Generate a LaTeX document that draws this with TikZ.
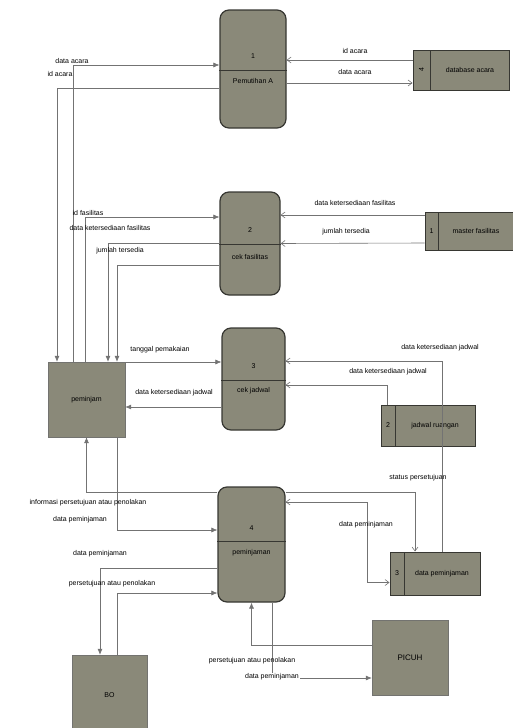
\documentclass[tikz,border=0pt]{standalone}
\usepackage{fontspec}
\setmainfont{Liberation Sans}
\usetikzlibrary{arrows.meta,positioning}

\definecolor{boxfill}{RGB}{138,137,121}
\definecolor{boxline}{RGB}{55,55,50}
\definecolor{flowline}{RGB}{115,115,115}

\tikzset{
  proc/.style={draw=boxline, line width=1.2pt, fill=boxfill, rounded corners=9pt,
    minimum width=66pt, inner sep=0pt},
  entity/.style={draw=boxline!70, fill=boxfill, minimum width=76pt, minimum height=75pt},
  storebox/.style={draw=boxline, line width=1pt, fill=boxfill, minimum height=40pt, inner sep=0pt},
  flow/.style={draw=flowline, line width=0.6pt, -{Latex[length=6pt,width=5pt]}},
  flowthin/.style={draw=flowline, line width=0.6pt, -{Straight Barb[length=4pt,width=6pt]}},
  lbl/.style={font=\fontsize{7}{8}\selectfont, inner sep=1pt},
  boxtxt/.style={font=\fontsize{7}{8}\selectfont, inner sep=0pt},
}

\begin{document}
\begin{tikzpicture}[x=1pt,y=-1pt]

    % Page size of the reference
    \useasboundingbox (0,0) rectangle (513,728);

    % Processes
    \node[proc, minimum height=118pt] (p1) at (253,69) {};
    \node[proc, minimum width=60pt, minimum height=103pt] (p2) at (250,243.5) {};
    \node[proc, minimum width=63pt, minimum height=102pt] (p3) at (253.5,379) {};
    \node[proc, minimum width=67pt, minimum height=115pt] (p4) at (251.5,544.5) {};

    % Divider line and texts of each process
    \draw[boxline, line width=1pt] (p1.west |- 0,70) -- (p1.east |- 0,70);
    \draw[boxline, line width=1pt] (p2.west |- 0,244) -- (p2.east |- 0,244);
    \draw[boxline, line width=1pt] (p3.west |- 0,380) -- (p3.east |- 0,380);
    \draw[boxline, line width=1pt] (p4.west |- 0,541) -- (p4.east |- 0,541);
    \node[boxtxt] (p1num) at (253,56) {1};
    \node[boxtxt] (p1name) at (253,81) {Pemutihan A};
    \node[boxtxt] (p2num) at (250,230) {2};
    \node[boxtxt] (p2name) at (250,257) {cek fasilitas};
    \node[boxtxt] (p3num) at (253.5,366) {3};
    \node[boxtxt] (p3name) at (253.5,391) {cek jadwal};
    \node[boxtxt] (p4num) at (251.5,528) {4};
    \node[boxtxt] (p4name) at (251.5,553) {peminjaman};

    % Data stores
    \node[storebox, minimum width=96pt] (sacara) at (461,70) {};
    \node[storebox, minimum width=88pt, minimum height=38pt] (s1) at (469,231) {};
    \node[storebox, minimum width=94pt, minimum height=41pt] (s2) at (428,425.5) {};
    \node[storebox, minimum width=90pt, minimum height=43pt] (s3) at (435,573.5) {};
    \draw[boxline, line width=1pt] (430,50) -- (430,90);
    \draw[boxline, line width=1pt] (438,212) -- (438,250);
    \draw[boxline, line width=1pt] (395,405) -- (395,446);
    \draw[boxline, line width=1pt] (404,552) -- (404,595);
    \node[boxtxt, rotate=90] (sacaranum) at (421.5,70) {4};
    \node[boxtxt] (sacaraname) at (470,70) {database acara};
    \node[boxtxt] (s1num) at (431.5,231) {1};
    \node[boxtxt] (s1name) at (476,231) {master fasilitas};
    \node[boxtxt] (s2num) at (388,425.5) {2};
    \node[boxtxt] (s2name) at (435,425.5) {jadwal ruangan};
    \node[boxtxt] (s3num) at (397,573.5) {3};
    \node[boxtxt] (s3name) at (442,573.5) {data peminjaman};

    % External entities
    \node[entity, minimum width=77pt] (peminjam) at (86.5,399.5) {\fontsize{7}{8}\selectfont peminjam};
    \node[entity, minimum width=75pt, minimum height=80pt] (bo) at (109.5,695) {\fontsize{7}{8}\selectfont BO};
    \node[entity] (picuh) at (410,657.5) {\fontsize{8}{9}\selectfont PICUH};

    % Flows of process 1
    \draw[flow] ([xshift=-13.5pt]peminjam.north) |- ([yshift=4pt]p1.west);
    \draw[flow] ([yshift=-19pt]p1.west) -| ([xshift=-29.5pt]peminjam.north);
    \draw[flowthin] ([yshift=10pt]sacara.west) -- ([yshift=9pt]p1.east);
    \draw[flowthin] ([yshift=-14pt]p1.east) -- ([yshift=-13pt]sacara.west);
    \node[lbl] (l1) at (72,61) {data acara};
    \node[lbl] (l2) at (60,74) {id acara};
    \node[lbl] (l3) at (355,51) {id acara};
    \node[lbl] (l4) at (355,72) {data acara};

    % Flows of process 2
    \draw[flow] ([xshift=-1.5pt]peminjam.north) |- ([yshift=26.5pt]p2.west);
    \draw[flow] (p2.west) -| ([xshift=21.5pt]peminjam.north);
    \draw[flow] ([yshift=-21.5pt]p2.west) -| ([xshift=30.5pt]peminjam.north);
    \draw[flowthin] ([yshift=16pt]s1.west) -- ([yshift=28.5pt]p2.east);
    \draw[flowthin] ([yshift=-12pt]s1.west) -- (p2.east);
    \node[lbl] (l5) at (88,213) {id fasilitas};
    \node[lbl] (l6) at (110,228) {data ketersediaan fasilitas};
    \node[lbl] (l7) at (120,251) {jumlah tersedia};
    \node[lbl] (l8) at (355,203) {data ketersediaan fasilitas};
    \node[lbl] (l9) at (346,232) {jumlah tersedia};

    % Flows of process 3
    \draw[flow] ([yshift=37.5pt]peminjam.east) -- ([yshift=17pt]p3.west);
    \draw[flow] ([yshift=-28pt]p3.west) -- ([yshift=-7.5pt]peminjam.east);
    \draw[flowthin] ([xshift=7pt]s3.north) |- ([yshift=18pt]p3.east);
    \draw[flowthin] ([xshift=-41pt]s2.north) |- ([yshift=-6pt]p3.east);
    \node[lbl] (l10) at (160,350) {tanggal pemakaian};
    \node[lbl] (l11) at (174,393) {data ketersediaan jadwal};
    \node[lbl] (l12) at (440,348) {data ketersediaan jadwal};
    \node[lbl] (l13) at (388,372) {data ketersediaan jadwal};

    % Flows of process 4
    \draw[flowthin] ([yshift=52.5pt]p4.east) -| ([xshift=-20pt]s3.north);
    \draw[flowthin, {Straight Barb[length=4pt,width=6pt]}-{Straight Barb[length=4pt,width=6pt]}]
      ([yshift=42.5pt]p4.east) -- ++(82pt,0) |- ([yshift=-9pt]s3.west);
    \draw[flow] ([yshift=52.5pt]p4.west) -| (peminjam.south);
    \draw[flow] ([xshift=30.5pt]peminjam.south) |- ([yshift=14.5pt]p4.west);
    \draw[flow] ([yshift=-23.5pt]p4.west) -| ([xshift=-9.5pt]bo.north);
    \draw[flow] ([xshift=7.5pt]bo.north) |- ([yshift=-48.5pt]p4.west);
    \draw[flow] ([yshift=12.5pt]picuh.west) -| (p4.south);
    \draw[flow] ([xshift=20.5pt]p4.south) |- ([yshift=-20.5pt]picuh.west);
    \node[lbl] (l14) at (418,478) {status persetujuan};
    \node[lbl] (l15) at (366,525) {data peminjaman};
    \node[lbl] (l16) at (88,503) {informasi persetujuan atau penolakan};
    \node[lbl] (l17) at (80,520) {data peminjaman};
    \node[lbl] (l18) at (100,554) {data peminjaman};
    \node[lbl] (l19) at (112,584) {persetujuan atau penolakan};
    \node[lbl] (l20) at (252,661) {persetujuan atau penolakan};
    \node[lbl, fill=white] (l21) at (272,677) {data peminjaman};

\end{tikzpicture}
\end{document}
